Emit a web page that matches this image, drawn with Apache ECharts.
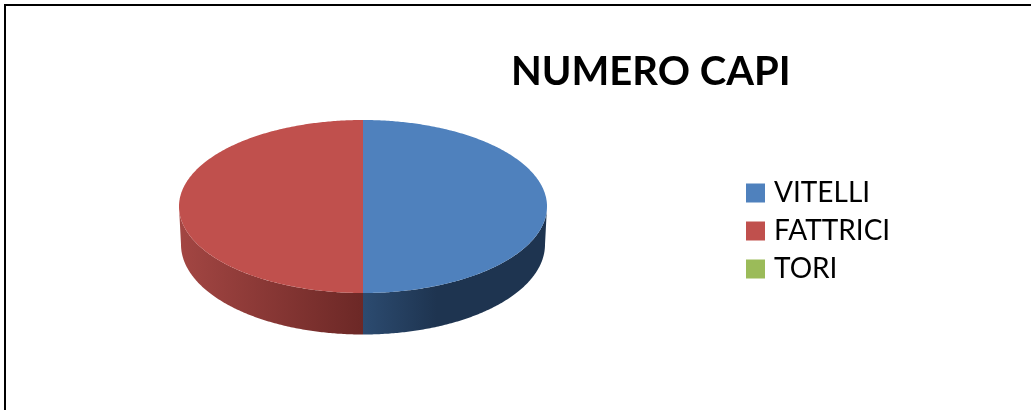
<!DOCTYPE html>
<html>
<head>
<meta charset="utf-8">
<style>html,body{margin:0;padding:0;background:#fff}#chart{width:1031px;height:410px}</style>
<script src="https://cdn.jsdelivr.net/npm/echarts@6/dist/echarts.min.js"></script>
</head>
<body>
<div id="chart"></div>
<script>
// Herd composition
const categories = ['VITELLI', 'FATTRICI', 'TORI'];
const values = [50, 50, 0];
const topColors = ['#4f81bd', '#c0504d', '#9bbb59'];
const rimStops = [
  [[0, '#2c4b70'], [0.4, '#1e3450'], [1, '#1e3450']],
  [[0, '#a34643'], [1, '#6c2826']],
  [[0, '#5d7035'], [1, '#3f4c24']]
];

// Tilted disc geometry: upper face and the slightly narrower lower edge
const CX = 363;
const TOP_FACE = { cy: 206.5, rx: 184, ry: 86.5 };
const LOWER_EDGE = { cy: 244.5, rx: 182, ry: 90 };

const total = values.reduce((a, b) => a + b, 0);

function ellipsePoint(theta, e) {
  return [CX + e.rx * Math.sin(theta), e.cy - e.ry * Math.cos(theta)];
}

// Angle measured clockwise from twelve o'clock
function sliceRange(index) {
  const before = values.slice(0, index).reduce((a, b) => a + b, 0);
  return [before / total * Math.PI * 2, (before + values[index]) / total * Math.PI * 2];
}

function arc(start, end, e) {
  const pts = [];
  const steps = Math.max(2, Math.ceil((end - start) / 0.01));
  for (let i = 0; i <= steps; i++) {
    pts.push(ellipsePoint(start + (end - start) * i / steps, e));
  }
  return pts;
}

function renderSlice(index) {
  return function (params, api) {
    if (!api.value(0)) return { type: 'group', children: [] };
    const range = sliceRange(index);
    const children = [];
    // Side wall: only the part of the rim facing the viewer
    const s = Math.max(range[0], Math.PI / 2);
    const e = Math.min(range[1], Math.PI * 1.5);
    if (e > s) {
      const front = arc(s, e, TOP_FACE);
      const back = arc(s, e, LOWER_EDGE).reverse();
      children.push({
        type: 'polygon',
        shape: { points: front.concat(back) },
        style: {
          fill: new echarts.graphic.LinearGradient(
            0, 0, 1, 0,
            rimStops[index].map(st => ({ offset: st[0], color: st[1] }))
          ),
          stroke: null
        }
      });
    }
    // Top face
    children.push({
      type: 'polygon',
      shape: { points: [[CX, TOP_FACE.cy]].concat(arc(range[0], range[1], TOP_FACE)) },
      style: { fill: topColors[index], stroke: null }
    });
    return { type: 'group', children: children };
  };
}

const chart = echarts.init(document.getElementById('chart'), null, { renderer: 'canvas' });
chart.setOption({
  animation: false,
  backgroundColor: '#ffffff',
  title: {
    text: 'NUMERO CAPI',
    left: 511,
    top: 52,
    padding: 0,
    textStyle: { fontFamily: 'Lato', fontWeight: 'bold', fontSize: 40, color: '#000000' }
  },
  legend: {
    data: categories,
    orient: 'vertical',
    left: 746,
    top: 178,
    padding: 0,
    icon: 'rect',
    itemWidth: 19,
    itemHeight: 19,
    itemGap: 8,
    selectedMode: false,
    textStyle: { fontFamily: 'Lato', fontSize: 28, color: '#000000', lineHeight: 30, padding: [0, 0, 0, 4] }
  },
  graphic: [
    { type: 'rect', shape: { x: 4, y: 4, width: 1027, height: 2 }, style: { fill: '#000000' }, silent: true },
    { type: 'rect', shape: { x: 4, y: 4, width: 2, height: 406 }, style: { fill: '#000000' }, silent: true }
  ],
  series: categories.map((name, i) => ({
    type: 'custom',
    name: name,
    coordinateSystem: 'none',
    silent: true,
    itemStyle: { color: topColors[i] },
    data: [[values[i]]],
    renderItem: renderSlice(i)
  }))
});
</script>
</body>
</html>
